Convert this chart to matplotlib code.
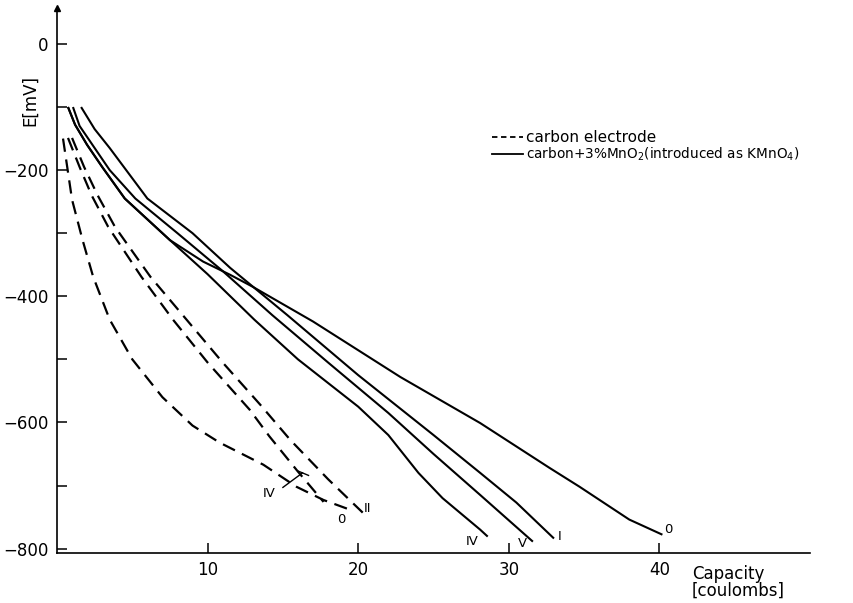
import numpy as np
import matplotlib.pyplot as plt
from matplotlib.lines import Line2D

# ---------- data ----------
# carbon+3% MnO2, solid curves (capacity [C], E [mV])
sol_0_x = [0.73, 1.2, 2.0, 3.0, 4.5, 7.5, 9.7, 11.5, 13.0, 17.0, 22.8, 28.1, 32.7, 34.7, 38.0, 40.2]
sol_0_y = [-100, -128, -160, -195, -245, -311, -345, -366, -385, -440, -528, -601, -672, -702, -754, -778]
sol_IV_x = [0.73, 1.2, 2.0, 3.0, 4.5, 7.5, 10.0, 13.1, 16.0, 20.0, 22.0, 24.0, 25.6, 28.1, 28.6]
sol_IV_y = [-100, -128, -160, -195, -245, -311, -365, -437, -500, -575, -620, -680, -720, -770, -781]
sol_V_x = [1.06, 1.5, 2.5, 3.5, 5.2, 8.0, 11.0, 14.3, 18.0, 22.0, 25.0, 28.1, 31.6]
sol_V_y = [-100, -130, -165, -200, -245, -300, -360, -430, -505, -585, -650, -715, -789]
sol_I_x = [1.6, 2.5, 3.5, 6.0, 9.0, 11.5, 15.3, 20.0, 25.0, 28.1, 30.5, 33.0]
sol_I_y = [-100, -135, -165, -245, -300, -355, -430, -525, -620, -680, -727, -784]

# carbon electrode, dashed curves
das_0_x = [0.4, 1.0, 1.7, 2.4, 3.5, 5.0, 7.0, 9.0, 10.8, 13.7, 15.9, 17.7, 19.3]
das_0_y = [-150, -247, -311, -369, -437, -500, -560, -605, -632, -667, -702, -723, -737]
das_IV_x = [0.73, 1.5, 2.3, 3.4, 5.6, 7.7, 10.0, 12.8, 14.1, 16.0, 17.7]
das_IV_y = [-149, -195, -240, -290, -369, -437, -505, -580, -622, -678, -726]
das_II_x = [1.0, 1.8, 2.7, 3.85, 6.2, 8.6, 11.0, 13.5, 15.5, 18.0, 20.3]
das_II_y = [-149, -195, -240, -290, -369, -437, -505, -572, -628, -690, -743]

solid_curves = [(sol_0_x, sol_0_y), (sol_IV_x, sol_IV_y), (sol_V_x, sol_V_y), (sol_I_x, sol_I_y)]
dashed_curves = [(das_0_x, das_0_y), (das_IV_x, das_IV_y), (das_II_x, das_II_y)]

# curve labels (text, x, y)
curve_labels = [
    ("IV", 14.1, -712), ("0", 18.9, -754), ("II", 20.6, -737),
    ("IV", 27.6, -789), ("V", 30.9, -792), ("I", 33.4, -781), ("0", 40.6, -770),
]

x_ticks = [10, 20, 30, 40]
y_ticks = [0, -200, -400, -600, -800]
y_minor = [-100, -300, -500, -700]

legend_labels = ["carbon electrode", r"carbon+3%MnO$_2$(introduced as KMnO$_4$)"]

plt.rcParams["font.family"] = "DejaVu Sans"

fig = plt.figure(figsize=(8.54, 6.03), dpi=100)
ax = fig.add_axes([57 / 854, 50 / 603, (810 - 57) / 854, 545 / 603])

for x, y in solid_curves:
    ax.plot(x, y, color="black", linewidth=1.5, solid_capstyle="butt")
for x, y in dashed_curves:
    ax.plot(x, y, color="black", linewidth=1.6, dashes=(6, 3.5))

for txt, x, y in curve_labels:
    ax.text(x, y, txt, fontsize=9.5, ha="center", va="center")

# leader for the dashed IV label
ax.plot([15.0, 16.3], [-703, -680], color="black", linewidth=1.0)
ax.plot([16.0, 16.7], [-677, -684], color="black", linewidth=1.0)

ax.set_xlim(0, 50)
ax.set_ylim(-807, 57)

ax.spines["top"].set_visible(False)
ax.spines["right"].set_visible(False)
ax.spines["left"].set_linewidth(1.2)
ax.spines["bottom"].set_linewidth(1.2)

ax.set_xticks(x_ticks)
ax.set_xticklabels([str(v) for v in x_ticks])
ax.set_yticks(y_ticks)
ax.set_yticklabels(["0", "\u2212200", "\u2212400", "\u2212600", "\u2212800"])
ax.set_yticks(y_minor, minor=True)
ax.tick_params(axis="both", direction="in", length=7, width=1.1, labelsize=12, pad=6)
ax.tick_params(axis="y", which="minor", direction="in", length=7, width=1.1)

# arrow at the top of the E axis
ax.plot([0], [57], marker="^", color="black", markersize=5, clip_on=False)

fig.text(30 / 854, 1 - 100 / 603, "E[mV]", rotation=90, fontsize=12, ha="center", va="center")
fig.text(692 / 854, 1 - 582 / 603, "Capacity\n[coulombs]", fontsize=12, ha="left", va="center",
         linespacing=0.9)

# legend, drawn by hand in figure pixels
fig.add_artist(Line2D([492 / 854, 523 / 854], [1 - 137 / 603] * 2, transform=fig.transFigure,
                      color="black", linewidth=1.3, dashes=(3, 2)))
fig.add_artist(Line2D([492 / 854, 523 / 854], [1 - 154 / 603] * 2, transform=fig.transFigure,
                      color="black", linewidth=1.3))
fig.text(526 / 854, 1 - 137 / 603, legend_labels[0], fontsize=11, ha="left", va="center")
fig.text(526 / 854, 1 - 154 / 603, legend_labels[1], fontsize=9.8, ha="left", va="center")

fig.savefig("out.png", dpi=100)
